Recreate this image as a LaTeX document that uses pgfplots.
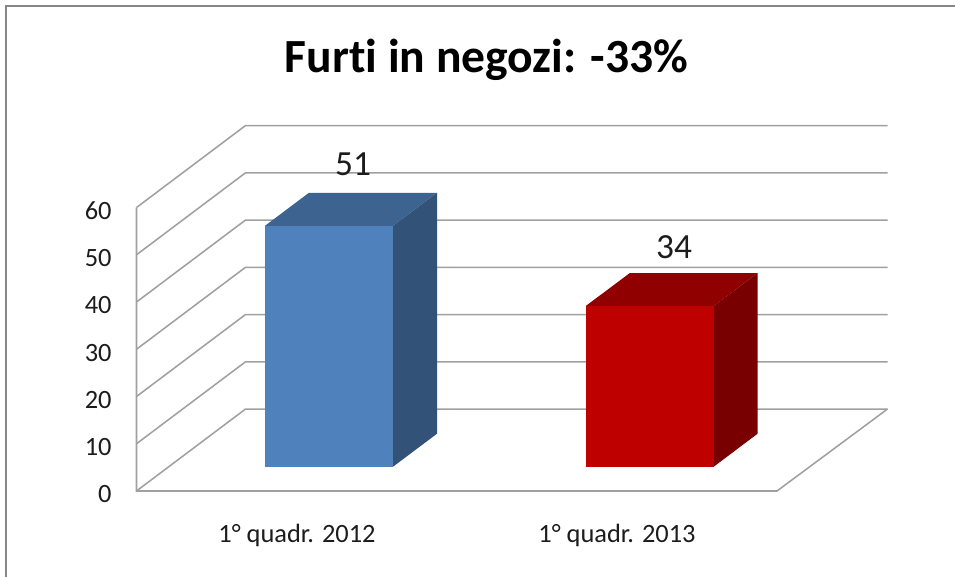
\documentclass[border=0pt]{standalone}
\usepackage{fontspec}
\setmainfont[Ligatures=NoCommon]{Carlito}
\usepackage{pgfplots}
\pgfplotsset{compat=1.18}
\definecolor{gridc}{HTML}{A0A0A0}
\definecolor{framec}{HTML}{878787}
\definecolor{bluef}{HTML}{4F81BD}
\definecolor{bluet}{HTML}{3D6491}
\definecolor{blues}{HTML}{325278}
\definecolor{redf}{HTML}{BE0000}
\definecolor{redt}{HTML}{900000}
\definecolor{reds}{HTML}{790000}
\definecolor{txt}{HTML}{1C1C1C}
\begin{document}
\begin{tikzpicture}[x=0.75pt,y=0.75pt]
% page: 955 x 577 px; axis origin sits at pixel (136.5, 491)
\fill[white] (-136.5,-86) rectangle (818.5,491);
\draw[overlay,framec,line width=1.6pt] (-130.5,-90) -- (-130.5,485) -- (822,485);
\begin{axis}[
  at={(0pt,0pt)}, anchor=origin,
  scale only axis, width=480.375pt, height=212.6pt,
  xmin=136.5, xmax=777, ymin=0, ymax=60,
  clip=false,
  axis line style={draw=none},
  major tick length=0pt,
  tick style={draw=none},
  xtick={297,617},
  xticklabels={1° quadr. 2012,1° quadr. 2013},
  ytick={0,10,20,30,40,50,60},
  /pgf/number format/assume math mode=true,
  tick label style={font=\fontsize{19.8}{20}\selectfont, text=txt},
  x tick label style={anchor=base, inner sep=0pt, yshift=-39pt},
  y tick label style={anchor=east, inner sep=0pt, xshift=-18.5pt, yshift=-2.5pt},
]
% walls and floor
\addplot[gridc, line width=1.15pt, no markers] coordinates {(136.5,60)(245.5,77.35)(887.5,77.35)};
\addplot[gridc, line width=1.15pt, no markers] coordinates {(136.5,50)(245.5,67.35)(887.5,67.35)};
\addplot[gridc, line width=1.15pt, no markers] coordinates {(136.5,40)(245.5,57.35)(887.5,57.35)};
\addplot[gridc, line width=1.15pt, no markers] coordinates {(136.5,30)(245.5,47.35)(887.5,47.35)};
\addplot[gridc, line width=1.15pt, no markers] coordinates {(136.5,20)(245.5,37.35)(887.5,37.35)};
\addplot[gridc, line width=1.15pt, no markers] coordinates {(136.5,10)(245.5,27.35)(887.5,27.35)};
\addplot[gridc, line width=1.15pt, no markers] coordinates {(136.5,0)(245.5,17.35)(887.5,17.35)};
\addplot[gridc, line width=1.15pt, no markers] coordinates {(136.5,60)(136.5,0)(777,0)(887.5,17.35)};
% bar 1: value 51, base at 5.14
\addplot[draw=none, fill=bluet, no markers] coordinates {(265,56.14)(393,56.14)(437,63.12)(309,63.12)} -- cycle;
\addplot[draw=none, fill=blues, no markers] coordinates {(393,5.14)(437,12.12)(437,63.12)(393,56.14)} -- cycle;
\addplot[draw=none, fill=bluef, no markers] coordinates {(265,5.14)(393,5.14)(393,56.14)(265,56.14)} -- cycle;
% bar 2: value 34
\addplot[draw=none, fill=redt, no markers] coordinates {(585.7,39.14)(713.7,39.14)(757.5,46.12)(629.7,46.12)} -- cycle;
\addplot[draw=none, fill=reds, no markers] coordinates {(713.7,5.14)(757.5,12.12)(757.5,46.12)(713.7,39.14)} -- cycle;
\addplot[draw=none, fill=redf, no markers] coordinates {(585.7,5.14)(713.7,5.14)(713.7,39.14)(585.7,39.14)} -- cycle;
% data labels
\addplot[draw=none, no markers, point meta=explicit symbolic,
  nodes near coords, nodes near coords align={anchor=center},
  every node near coord/.append style={font=\fontsize{26.5}{27}\selectfont, text=txt, inner sep=0pt}]
  coordinates {(353,69.2)[51] (674,51.65)[34]};
% title
\node[anchor=base, font=\fontsize{35.7}{36}\selectfont\bfseries, text=black, inner sep=0pt] at (axis cs:486.5,88.68) {Furti in negozi: -33\%};
\end{axis}
\end{tikzpicture}
\end{document}
